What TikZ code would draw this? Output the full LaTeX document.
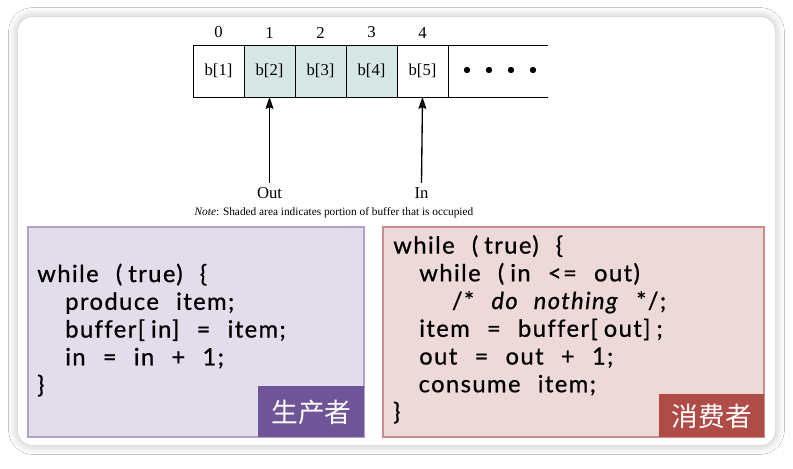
\documentclass[tikz,border=0pt]{standalone}
\usepackage{fontspec}
\setmainfont{Liberation Serif}
\newfontfamily\codefont[FakeBold=0.7, LetterSpace=6, WordSpace=2.3, Ligatures=NoCommon]{Lato}
\newfontfamily\cjk{Noto Sans CJK SC}
\usepackage{tikz}
\usetikzlibrary{arrows.meta, positioning, shadows.blur}
\definecolor{shadeteal}{RGB}{214,230,228}
\definecolor{prodfill}{RGB}{227,221,235}
\definecolor{prodline}{RGB}{176,160,200}
\definecolor{prodtag}{RGB}{111,85,151}
\definecolor{consfill}{RGB}{237,217,216}
\definecolor{consline}{RGB}{200,140,140}
\definecolor{constag}{RGB}{176,76,72}
\newcommand{\gap}{\hspace{4.5pt}}

\begin{document}
\begin{tikzpicture}[
    x=0.75pt, y=-0.75pt,
    every node/.style={font=\fontsize{12.5}{14}\selectfont},
    cell/.style={rectangle, draw, line width=0.75pt, outer sep=0pt, inner sep=0pt, minimum width=38.25pt, minimum height=39pt},
    used/.style={cell, fill=shadeteal},
    idx/.style={inner sep=1pt},
    ptr/.style={-{Stealth[length=9pt, width=6pt, inset=1.5pt]}, line width=1pt},
    codebox/.style={rectangle, draw=#1line, fill=#1fill, line width=1.1pt, minimum height=157.5pt, inner sep=0pt},
    code/.style={align=left, inner sep=0pt, font=\codefont\fontsize{17.8}{20.8}\selectfont},
    tag/.style={rectangle, fill=#1, text=white, inner sep=0pt, font=\cjk\fontsize{20}{24}\selectfont}
]
\useasboundingbox (0,0) rectangle (793,468);
\fill[white] (0,0) rectangle (793,468);
\fill[white, rounded corners=11pt, blur shadow={shadow xshift=0pt, shadow yshift=0pt, shadow blur radius=7pt, shadow opacity=28}] (18,17) rectangle (775,445);

% the buffer
\node[cell] (c0) at (218.5,71) {b[1]};
\node[used, right=0pt of c0] (c1) {b[2]};
\node[used, right=0pt of c1] (c2) {b[3]};
\node[used, right=0pt of c2] (c3) {b[4]};
\node[cell, right=0pt of c3] (c4) {b[5]};
\draw[line width=0.75pt] (c4.north east) -- ++(100,0);
\draw[line width=0.75pt] (c4.south east) -- ++(100,0);
\node (dots) at (500,71) {$\bullet$\hspace{10.5pt}$\bullet$\hspace{10.5pt}$\bullet$\hspace{10.5pt}$\bullet$};

\node[idx, above=4pt of c0] (i0) {0};
\node[idx, above=4pt of c1] (i1) {1};
\node[idx, above=4pt of c2] (i2) {2};
\node[idx, above=4pt of c3] (i3) {3};
\node[idx, above=4pt of c4] (i4) {4};

\node (outlbl) at (269.5,193) {Out};
\node (inlbl) at (421.5,193) {In};
\draw[ptr] (outlbl.north) -- (c1.south);
\draw[ptr] (inlbl.north) -- (c4.south);

\node[font=\fontsize{8.5}{10}\selectfont] (note) at (334,213) {\textit{Note}: Shaded area indicates portion of buffer that is occupied};

% producer and consumer
\node[codebox=prod, minimum width=252pt] (prod) at (196,332) {};
\node[codebox=cons, minimum width=285.75pt] (cons) at (573.5,332) {};

\node[code, anchor=base west] (prodcode) at (37,393) {while (\gap{}true) \{\\
\hspace*{21pt}produce item;\\
\hspace*{21pt}buffer[\gap{}in] = item;\\
\hspace*{21pt}in = in + 1;\\
\}};
\node[code, anchor=base west] (conscode) at (393,420) {while (\gap{}true) \{\\
\hspace*{19.5pt}while (\gap{}in <= out)\\
\hspace*{44pt}/* \textit{do nothing} */;\\
\hspace*{19.5pt}item = buffer[\gap{}out]\gap{};\\
\hspace*{19.5pt}out = out + 1;\\
\hspace*{19pt}consume item;\\
\}};

\node[tag=prodtag, minimum width=79.5pt, minimum height=38.25pt, anchor=south east] (prodname) at (prod.south east) {生产者};
\node[tag=constag, minimum width=78.75pt, minimum height=32.25pt, anchor=south east] (consname) at (cons.south east) {消费者};
\end{tikzpicture}
\end{document}
